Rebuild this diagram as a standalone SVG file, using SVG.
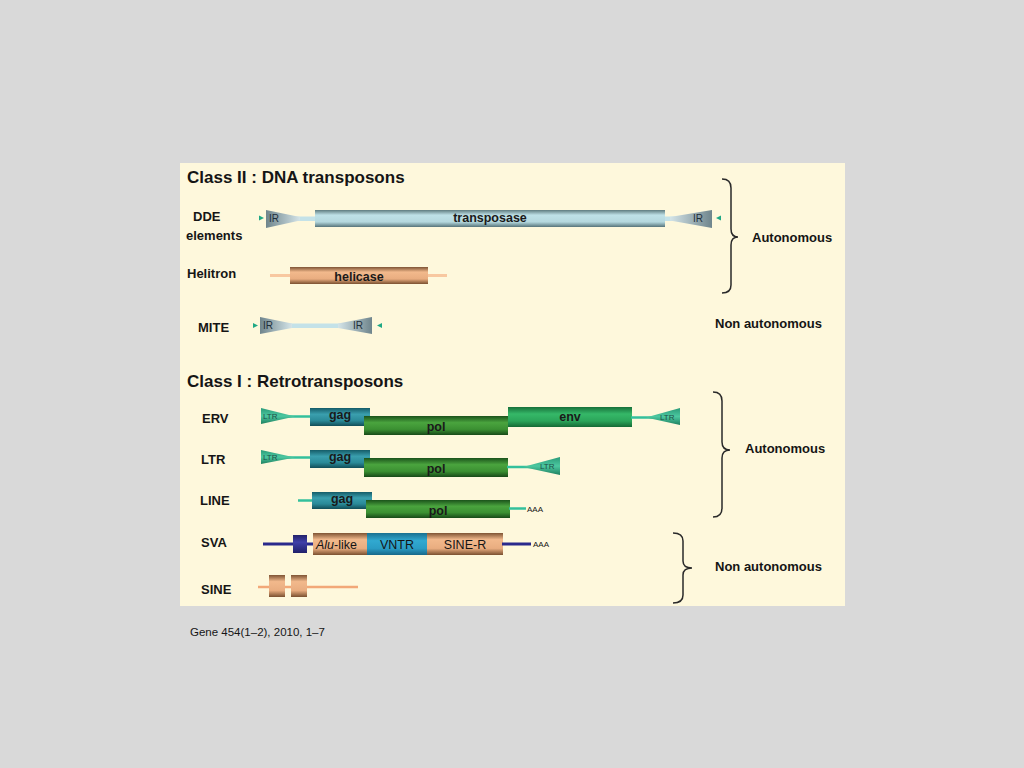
<svg xmlns="http://www.w3.org/2000/svg" width="1024" height="768" viewBox="0 0 1024 768">
<defs>
<style>
.t{font-family:"Liberation Sans",Arial,sans-serif;fill:#151515}
.title{font-size:17px;font-weight:bold}
.lab{font-size:13px;font-weight:bold}
.box{font-size:12.5px;font-weight:bold;fill:#1a1a1a;text-anchor:middle}
.sm{font-size:8px;fill:#1f5048}
.ir{font-size:10px;fill:#1e2e3a}
.brace{fill:none;stroke:#2a2a2a;stroke-width:1.5}
</style>
<linearGradient id="gBlue" x1="0" y1="0" x2="0" y2="1"><stop offset="0" stop-color="#5f7c80"/><stop offset="0.3" stop-color="#bfe1e7"/><stop offset="0.7" stop-color="#b5d8de"/><stop offset="1" stop-color="#56747a"/></linearGradient>
<linearGradient id="gTan" x1="0" y1="0" x2="0" y2="1"><stop offset="0" stop-color="#7e5434"/><stop offset="0.3" stop-color="#f2b98c"/><stop offset="0.7" stop-color="#e9ad80"/><stop offset="1" stop-color="#7a5030"/></linearGradient>
<linearGradient id="gTeal" x1="0" y1="0" x2="0" y2="1"><stop offset="0" stop-color="#155c68"/><stop offset="0.35" stop-color="#3a9fae"/><stop offset="0.7" stop-color="#2a8a98"/><stop offset="1" stop-color="#124e58"/></linearGradient>
<linearGradient id="gGreen" x1="0" y1="0" x2="0" y2="1"><stop offset="0" stop-color="#1b531b"/><stop offset="0.35" stop-color="#4aa43e"/><stop offset="0.7" stop-color="#3b9032"/><stop offset="1" stop-color="#184a18"/></linearGradient>
<linearGradient id="gEnv" x1="0" y1="0" x2="0" y2="1"><stop offset="0" stop-color="#17703a"/><stop offset="0.35" stop-color="#35b868"/><stop offset="0.7" stop-color="#2ba55a"/><stop offset="1" stop-color="#156a35"/></linearGradient>
<linearGradient id="gVntr" x1="0" y1="0" x2="0" y2="1"><stop offset="0" stop-color="#1a7090"/><stop offset="0.35" stop-color="#31a9d0"/><stop offset="0.7" stop-color="#2a9cc4"/><stop offset="1" stop-color="#17688a"/></linearGradient>
<linearGradient id="gNavy" x1="0" y1="0" x2="0" y2="1"><stop offset="0" stop-color="#22226a"/><stop offset="0.4" stop-color="#4040a8"/><stop offset="1" stop-color="#20206a"/></linearGradient>
<linearGradient id="gIR" x1="0" y1="0" x2="1" y2="0"><stop offset="0" stop-color="#6f858c"/><stop offset="1" stop-color="#d4e4e8"/></linearGradient>
<linearGradient id="gIRr" x1="1" y1="0" x2="0" y2="0"><stop offset="0" stop-color="#6f858c"/><stop offset="1" stop-color="#d4e4e8"/></linearGradient>
<linearGradient id="gLTR" x1="0" y1="0" x2="0" y2="1"><stop offset="0" stop-color="#2a9a78"/><stop offset="0.5" stop-color="#4cc8a0"/><stop offset="1" stop-color="#1f8060"/></linearGradient>
</defs>
<rect width="1024" height="768" fill="#d9d9d9"/>
<rect x="180" y="163" width="665" height="443" fill="#fef8dc"/>

<text class="t title" x="187" y="183">Class II : DNA transposons</text>
<text class="t title" x="187" y="387">Class I : Retrotransposons</text>

<g id="dde">
<text class="t lab" x="193" y="221">DDE</text>
<text class="t lab" x="186" y="240">elements</text>
<rect x="285" y="216.5" width="400" height="4.5" fill="#c4e2e8"/>
<polygon points="266,210 300,217 300,220.5 266,228" fill="url(#gIR)"/>
<polygon points="712,210 670,217 670,220.5 712,228" fill="url(#gIRr)"/>
<polygon points="259,215.5 259,220.5 264,218" fill="#1fa884"/>
<polygon points="721,215.5 721,220.5 716,218" fill="#1fa884"/>
<text class="t ir" x="269" y="222">IR</text>
<text class="t ir" x="693" y="222">IR</text>
<rect x="315" y="210" width="350" height="17" fill="url(#gBlue)"/>
<text class="t box" x="490" y="222">transposase</text>
</g>

<g id="helitron">
<text class="t lab" x="187" y="278">Helitron</text>
<line x1="270" y1="275.5" x2="447" y2="275.5" stroke="#f8c8a0" stroke-width="3"/>
<rect x="290" y="267" width="138" height="17" fill="url(#gTan)"/>
<text class="t box" x="359" y="281">helicase</text>
</g>

<g id="mite">
<text class="t lab" x="198" y="332">MITE</text>
<rect x="285" y="323.5" width="55" height="4.5" fill="#c4e2e8"/>
<polygon points="260,317 292,323.5 292,328 260,334" fill="url(#gIR)"/>
<polygon points="372,317 338,323.5 338,328 372,334" fill="url(#gIRr)"/>
<polygon points="253,323 253,328 258,325.5" fill="#1fa884"/>
<polygon points="382,323 382,328 377,325.5" fill="#1fa884"/>
<text class="t ir" x="263" y="329">IR</text>
<text class="t ir" x="353" y="329">IR</text>
</g>

<g id="erv">
<text class="t lab" x="202" y="423">ERV</text>
<line x1="285" y1="416.5" x2="312" y2="416.5" stroke="#33c09c" stroke-width="2.5"/>
<polygon points="261,408 295,416.5 261,424" fill="url(#gLTR)"/>
<text class="t sm" x="263" y="419">LTR</text>
<rect x="310" y="408" width="60" height="18" fill="url(#gTeal)"/>
<text class="t box" x="340" y="419">gag</text>
<rect x="364" y="416" width="144" height="19" fill="url(#gGreen)"/>
<text class="t box" x="436" y="431">pol</text>
<rect x="508" y="407" width="124" height="20" fill="url(#gEnv)"/>
<text class="t box" x="570" y="421">env</text>
<line x1="631" y1="417.5" x2="662" y2="417.5" stroke="#33c09c" stroke-width="2.5"/>
<polygon points="680,408 646,417.5 680,425" fill="url(#gLTR)"/>
<text class="t sm" x="660" y="420">LTR</text>
</g>

<g id="ltr">
<text class="t lab" x="201" y="464">LTR</text>
<line x1="285" y1="457.5" x2="312" y2="457.5" stroke="#33c09c" stroke-width="2.5"/>
<polygon points="261,450 295,457.5 261,464" fill="url(#gLTR)"/>
<text class="t sm" x="263" y="460">LTR</text>
<rect x="310" y="450" width="60" height="18" fill="url(#gTeal)"/>
<text class="t box" x="340" y="461">gag</text>
<rect x="364" y="458" width="144" height="19" fill="url(#gGreen)"/>
<text class="t box" x="436" y="473">pol</text>
<line x1="507" y1="467" x2="535" y2="467" stroke="#33c09c" stroke-width="2.5"/>
<polygon points="560,457 523,467 560,475" fill="url(#gLTR)"/>
<text class="t sm" x="540" y="469">LTR</text>
</g>

<g id="line">
<text class="t lab" x="200" y="505">LINE</text>
<line x1="298" y1="500.5" x2="314" y2="500.5" stroke="#33c09c" stroke-width="2.5"/>
<rect x="312" y="492" width="60" height="17" fill="url(#gTeal)"/>
<text class="t box" x="342" y="503">gag</text>
<rect x="366" y="500" width="144" height="18" fill="url(#gGreen)"/>
<text class="t box" x="438" y="515">pol</text>
<line x1="509" y1="508.5" x2="526" y2="508.5" stroke="#33c09c" stroke-width="2.5"/>
<text class="t" x="527" y="511.5" font-size="8">AAA</text>
</g>

<g id="sva">
<text class="t lab" x="201" y="547">SVA</text>
<line x1="263" y1="544" x2="314" y2="544" stroke="#2a2a8c" stroke-width="3"/>
<rect x="293" y="535" width="14" height="18" fill="url(#gNavy)"/>
<rect x="313" y="533" width="54" height="22" fill="url(#gTan)"/>
<rect x="367" y="533" width="60" height="22" fill="url(#gVntr)"/>
<rect x="427" y="533" width="76" height="22" fill="url(#gTan)"/>
<text class="t" x="316" y="548.5" font-size="12.5"><tspan font-style="italic">Alu</tspan>-like</text>
<text class="t" x="397" y="548.5" font-size="12.5" text-anchor="middle">VNTR</text>
<text class="t" x="465" y="548.5" font-size="12.5" text-anchor="middle">SINE-R</text>
<line x1="502" y1="544" x2="531" y2="544" stroke="#2a2a8c" stroke-width="3"/>
<text class="t" x="533" y="546.5" font-size="8">AAA</text>
</g>

<g id="sine">
<text class="t lab" x="201" y="594">SINE</text>
<line x1="258" y1="587" x2="358" y2="587" stroke="#f2a878" stroke-width="2.5"/>
<rect x="269" y="575" width="16" height="22" fill="url(#gTan)"/>
<rect x="291" y="575" width="16" height="22" fill="url(#gTan)"/>
</g>

<g id="connectors">
<path class="brace" d="M722,179 Q731,179 731,188 L731,229 Q731,237 738,237 Q731,237 731,245 L731,285 Q731,293 722,293"/>
<path class="brace" d="M713,392 Q722,392 722,401 L722,442 Q722,450 730,450 Q722,450 722,458 L722,508 Q722,517 713,517"/>
<path class="brace" d="M673,533 Q683,533 683,541 L683,561 Q683,568 692,568 Q683,568 683,575 L683,595 Q683,603 673,603"/>
</g>

<g id="labels">
<text class="t lab" x="752" y="242">Autonomous</text>
<text class="t lab" x="715" y="328">Non autonomous</text>
<text class="t lab" x="745" y="453">Autonomous</text>
<text class="t lab" x="715" y="571">Non autonomous</text>
</g>

<text class="t" x="190" y="636" font-size="11.5" fill="#111">Gene 454(1–2), 2010, 1–7</text>
</svg>
